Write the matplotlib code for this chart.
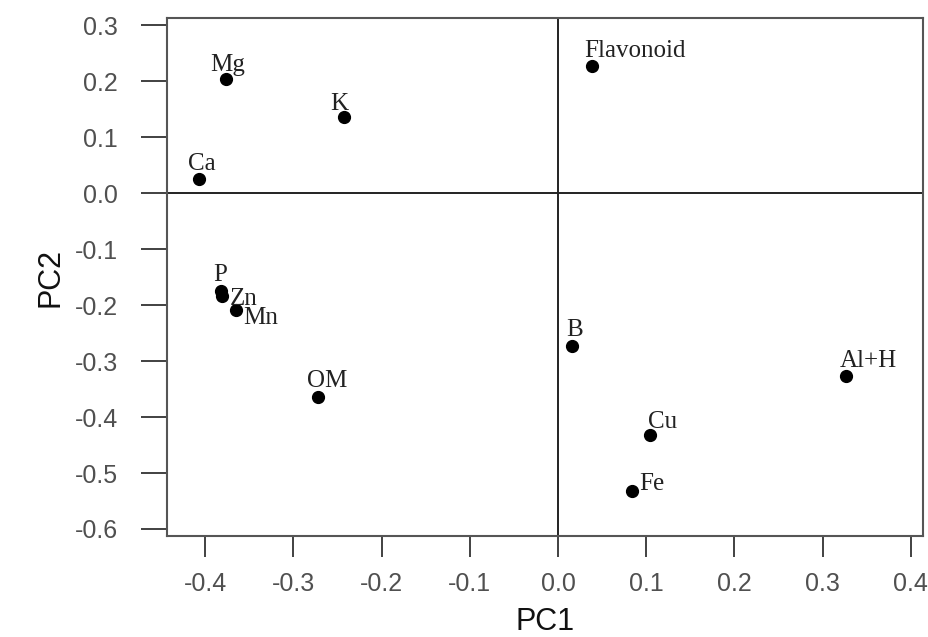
import matplotlib
matplotlib.use("Agg")
import matplotlib.pyplot as plt

variables = ["Mg", "K", "Ca", "P", "Zn", "Mn", "OM", "Flavonoid", "B", "Al+H", "Cu", "Fe"]
pc1 = [-0.376, -0.243, -0.407, -0.382, -0.381, -0.365, -0.272, 0.038, 0.016, 0.327, 0.104, 0.084]
pc2 = [0.204, 0.136, 0.025, -0.175, -0.183, -0.209, -0.364, 0.227, -0.273, -0.327, -0.432, -0.533]

xticks = [-0.4, -0.3, -0.2, -0.1, 0.0, 0.1, 0.2, 0.3, 0.4]
yticks = [0.3, 0.2, 0.1, 0.0, -0.1, -0.2, -0.3, -0.4, -0.5, -0.6]

# label offsets in pixels (left edge, baseline) relative to point
offsets = {
    "Mg": (-16, 8), "K": (-13, 7), "Ca": (-11, 9), "P": (-8, 10), "Zn": (8, -9),
    "Mn": (7, -14), "OM": (-11, 10), "Flavonoid": (-7, 9), "B": (-6, 10),
    "Al+H": (-7, 9), "Cu": (-2, 7), "Fe": (7, 1),
}

dpi = 100
fig = plt.figure(figsize=(9.29, 6.37), dpi=dpi)
ax = fig.add_axes([0.1794, 0.1586, 0.8138, 0.8127])

axis_col = "#333333"
ax.axhline(0, color="#222222", lw=1.4, zorder=1)
ax.axvline(0, color="#222222", lw=1.4, zorder=1)
ax.plot(pc1, pc2, "o", color="black", ms=8.5, zorder=3)

px = 72.0 / dpi
for name, x, y in zip(variables, pc1, pc2):
    dx, dy = offsets[name]
    ax.annotate(name, (x, y), xytext=(dx * px, dy * px), textcoords="offset points",
                ha="left", va="baseline", family="Liberation Serif", fontsize=18,
                color="#222222")

ax.set_xlim(-0.4437, 0.4135)
ax.set_ylim(-0.6125, 0.3125)
ax.set_xticks(xticks)
ax.set_yticks(yticks)
ax.set_xticklabels([f"{v:.1f}" for v in xticks])
ax.set_yticklabels([f"{v:.1f}" for v in yticks])
for lab in ax.get_xticklabels() + ax.get_yticklabels():
    lab.set_family("Liberation Sans")
    lab.set_fontsize(18)
    lab.set_color("#505050")
ax.tick_params(axis="x", length=15, width=1.3, color=axis_col, pad=11)
ax.tick_params(axis="y", length=19, width=1.3, color=axis_col, pad=16)
for s in ax.spines.values():
    s.set_color("#555555")
    s.set_linewidth(1.5)

ax.set_xlabel("PC1", family="Liberation Sans", fontsize=22, color="#111111", labelpad=8)
ax.set_ylabel("PC2", family="Liberation Sans", fontsize=22, color="#111111", labelpad=7)

fig.savefig("out.png", dpi=dpi)
